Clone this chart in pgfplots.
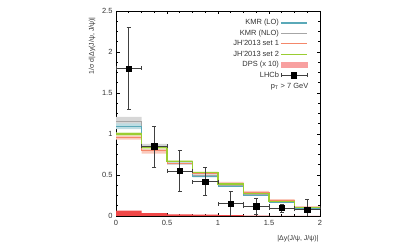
\documentclass[border=0pt]{standalone}
\usepackage{fontspec}
\setmainfont{Liberation Sans}
\usepackage{pgfplots}
\pgfplotsset{compat=1.18}
\usepgfplotslibrary{fillbetween}
\definecolor{kmrlo}{HTML}{5AA9B8}
\definecolor{kmrnlo}{HTML}{A6A6A6}
\definecolor{jhone}{HTML}{F4876A}
\definecolor{jhtwo}{HTML}{9ACD32}
\definecolor{dps}{HTML}{F04848}
\definecolor{dpsleg}{HTML}{F8A0A0}
\begin{document}
\begin{tikzpicture}
\begin{axis}[
  scale only axis, width=204bp, height=205bp,
  xmin=0, xmax=2, ymin=0, ymax=2.5,
  xtick={0,0.5,1,1.5,2}, ytick={0,0.5,1,1.5,2,2.5},
  minor tick num=3,
  tick align=inside,
  major tick length=3.5bp, minor tick length=2bp,
  axis line style={black, line width=0.9pt},
  every tick/.style={black, line width=0.6pt},
  tick label style={font=\fontsize{7.5}{8}\selectfont, text=black!80},
  /pgf/number format/assume math mode=true,
  xticklabel style={yshift=-1bp},
  xlabel={|Δy(J/ψ, J/ψ)|},
  xlabel style={at={(rel axis cs:1,0)}, anchor=north east, yshift=-16bp, xshift=2bp, font=\fontsize{7}{8}\selectfont, text=black!80},
  ylabel={1/σ d|Δy(J/ψ, J/ψ)|},
  ylabel style={at={(rel axis cs:0,0.83)}, anchor=center, yshift=24bp, font=\fontsize{7}{8}\selectfont, text=black!80},
  legend style={at={(rel axis cs:0.955,0.975)}, anchor=north east, draw=none, fill=none,
    font=\fontsize{7.5}{8}\selectfont, row sep=1.2bp, nodes={inner sep=1.2bp, text=black!80}},
  legend cell align=right, legend plot pos=right,
]
% bands
\addplot[const plot, draw=none, name path=ju, forget plot] coordinates {(0,0.985)(0.25,0.83)(0.5,0.665)(0.75,0.535)(1,0.415)(1.25,0.305)(1.5,0.205)(1.75,0.12)(2,0.12)};
\addplot[const plot, draw=none, name path=jl, forget plot] coordinates {(0,0.93)(0.25,0.76)(0.5,0.625)(0.75,0.5)(1,0.385)(1.25,0.275)(1.5,0.18)(1.75,0.10)(2,0.10)};
\addplot[jhone!45, forget plot] fill between[of=ju and jl];
\addplot[const plot, draw=none, name path=nu, forget plot] coordinates {(0,1.21)(0.25,0.88)(0.5,0.665)(0.75,0.515)(1,0.38)(1.25,0.27)(1.5,0.175)(1.75,0.095)(2,0.095)};
\addplot[const plot, draw=none, name path=nl, forget plot] coordinates {(0,1.10)(0.25,0.82)(0.5,0.625)(0.75,0.48)(1,0.355)(1.25,0.245)(1.5,0.16)(1.75,0.085)(2,0.085)};
\addplot[kmrnlo!45, forget plot] fill between[of=nu and nl];
\addplot[const plot, draw=none, name path=ku, forget plot] coordinates {(0,1.13)(0.25,0.855)(0.5,0.655)(0.75,0.495)(1,0.375)(1.25,0.26)(1.5,0.17)(1.75,0.095)(2,0.095)};
\addplot[const plot, draw=none, name path=kl, forget plot] coordinates {(0,1.06)(0.25,0.825)(0.5,0.63)(0.75,0.47)(1,0.355)(1.25,0.245)(1.5,0.16)(1.75,0.085)(2,0.085)};
\addplot[kmrlo!40, forget plot] fill between[of=ku and kl];
\addplot[const plot, draw=none, name path=gu, forget plot] coordinates {(0,1.02)(0.25,0.845)(0.5,0.68)(0.75,0.54)(1,0.40)(1.25,0.28)(1.5,0.185)(1.75,0.105)(2,0.105)};
\addplot[const plot, draw=none, name path=gl, forget plot] coordinates {(0,0.98)(0.25,0.815)(0.5,0.66)(0.75,0.52)(1,0.38)(1.25,0.26)(1.5,0.175)(1.75,0.095)(2,0.095)};
\addplot[jhtwo!40, forget plot] fill between[of=gu and gl];
% DPS
\addplot[const plot, draw=none, fill=dps, forget plot] coordinates {(0,0)(0,0.065)(0.25,0.035)(0.5,0.02)(0.75,0.018)(1,0.01)(1.25,0.005)(1.5,0.003)(1.75,0.002)(2,0.002)(2,0)};
% central lines
\addplot[const plot, kmrnlo, line width=0.9pt, forget plot] coordinates {(0,1.15)(0.25,0.85)(0.5,0.645)(0.75,0.50)(1,0.37)(1.25,0.258)(1.5,0.168)(1.75,0.09)(2,0.09)};
\addplot[const plot, kmrlo, line width=0.9pt, forget plot] coordinates {(0,1.095)(0.25,0.84)(0.5,0.642)(0.75,0.483)(1,0.365)(1.25,0.252)(1.5,0.165)(1.75,0.09)(2,0.09)};
\addplot[const plot, jhone, line width=0.9pt, forget plot] coordinates {(0,0.96)(0.25,0.80)(0.5,0.645)(0.75,0.518)(1,0.40)(1.25,0.29)(1.5,0.192)(1.75,0.11)(2,0.11)};
\addplot[const plot, jhtwo, line width=1.1pt, forget plot] coordinates {(0,1.0)(0.25,0.83)(0.5,0.67)(0.75,0.53)(1,0.39)(1.25,0.27)(1.5,0.18)(1.75,0.10)(2,0.10)};
% LHCb
\addplot[black!75, only marks, mark=square*, mark size=2.6bp, mark options={black}, forget plot,
  error bars/.cd, x dir=both, x explicit, y dir=both, y explicit,
  error bar style={black!75, line width=0.6pt}, error mark options={rotate=90, mark size=2bp, black!75}]
  coordinates {
  (0.125,1.80) +- (0.125,0.50)
  (0.375,0.85) +- (0.125,0.25)
  (0.625,0.55) +- (0.125,0.25)
  (0.875,0.42) +- (0.125,0.17)
  (1.125,0.15) +- (0.125,0.15)
  (1.375,0.12) +- (0.125,0.10)
  (1.625,0.10) +- (0.125,0.05)
  (1.875,0.08) +- (0.125,0.12)
  };
% legend
\addlegendimage{legend image code/.code={\draw[kmrlo, line width=1.1pt] (0cm,0cm) -- (0.92cm,0cm);}}
\addlegendentry{KMR (LO)}
\addlegendimage{legend image code/.code={\draw[kmrnlo, line width=1.1pt] (0cm,0cm) -- (0.92cm,0cm);}}
\addlegendentry{KMR (NLO)}
\addlegendimage{legend image code/.code={\draw[jhone, line width=1.1pt] (0cm,0cm) -- (0.92cm,0cm);}}
\addlegendentry{JH'2013 set 1}
\addlegendimage{legend image code/.code={\draw[jhtwo, line width=1.4pt] (0cm,0cm) -- (0.92cm,0cm);}}
\addlegendentry{JH'2013 set 2}
\addlegendimage{legend image code/.code={\fill[dpsleg] (0cm,-2.6bp) rectangle (0.92cm,2.6bp);}}
\addlegendentry{DPS (x 10)}
\addlegendimage{legend image code/.code={\draw[black!75, line width=0.6pt] (0cm,0cm) -- (0.92cm,0cm) (0cm,-2bp) -- (0cm,2bp) (0.92cm,-2bp) -- (0.92cm,2bp); \fill[black] (0.46cm,0cm) +(-2.6bp,-2.6bp) rectangle +(2.6bp,2.6bp);}}
\addlegendentry{LHCb}
\node[anchor=east, font=\fontsize{7.5}{8}\selectfont, text=black!80] at (rel axis cs:0.96,0.63) {p\textsubscript{T} > 7 GeV};
\end{axis}
\path[use as bounding box] ([xshift=-116bp,yshift=-33bp]current axis.south west) rectangle ++(414bp,249bp);
\end{tikzpicture}
\end{document}
